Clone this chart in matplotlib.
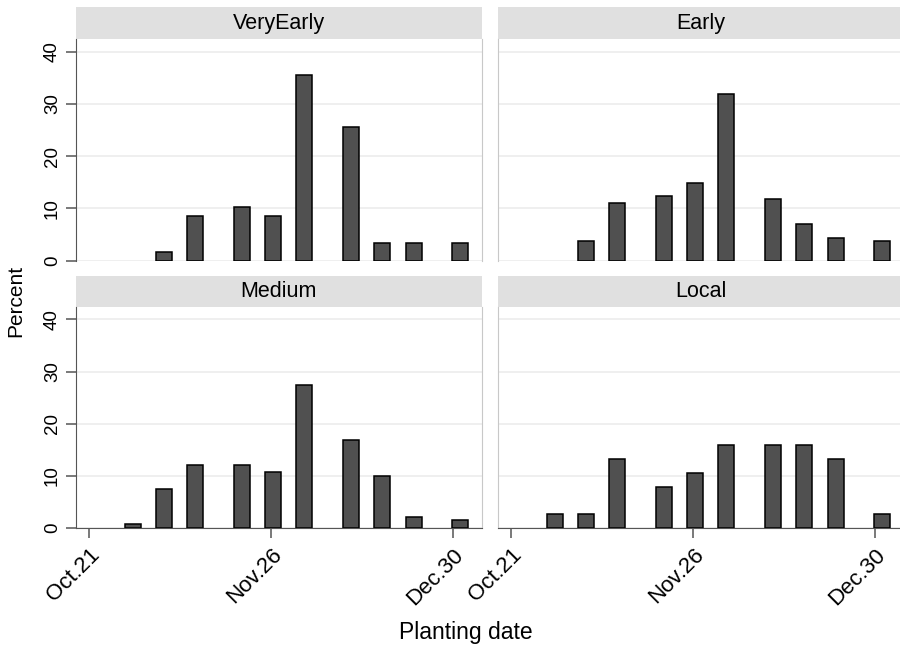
import numpy as np
import matplotlib
matplotlib.use("Agg")
import matplotlib.pyplot as plt

plt.rcParams['font.family'] = ['Liberation Sans', 'DejaVu Sans']

# bin centres on the date axis (Oct.21 = 0, Nov.26 = 36, Dec.30 = 72)
bin_pos = [8.7, 14.8, 21.0, 30.3, 36.4, 42.5, 51.8, 58.0, 64.3, 73.4]
tick_pos = [0, 36, 72]
tick_labels = ["Oct.21", "Nov.26", "Dec.30"]

very_early = [0, 1.7, 8.5, 10.2, 8.5, 35.6, 25.5, 3.4, 3.4, 3.4]
early = [0, 3.8, 11.1, 12.4, 14.8, 31.9, 11.7, 6.9, 4.4, 3.8]
medium = [0.7, 7.4, 12.1, 12.1, 10.7, 27.4, 16.8, 10.0, 2.0, 1.4]
local = [2.6, 2.6, 13.2, 7.9, 10.6, 15.9, 15.9, 15.9, 13.2, 2.6]

groups = ["VeryEarly", "Early", "Medium", "Local"]
series = [very_early, early, medium, local]

W, H = 900, 646
fig = plt.figure(figsize=(9, 6.46), dpi=100)

def px_axes(x0, y0, x1, y1):
    return fig.add_axes([x0 / W, 1 - y1 / H, (x1 - x0) / W, (y1 - y0) / H])

panel_w = 406
cols = [75.7, 497.7]
rows = [(7.3, 39.0, 260.5), (276.0, 307.0, 527.7)]

for i, (name, vals) in enumerate(zip(groups, series)):
    r, c = divmod(i, 2)
    x0 = cols[c]
    s0, p0, p1 = rows[r]
    # strip
    sax = px_axes(x0, s0, x0 + panel_w, p0)
    sax.set_facecolor("#e0e0e0")
    sax.set_xticks([])
    sax.set_yticks([])
    for sp in sax.spines.values():
        sp.set_visible(False)
    sax.text(0.5, 0.5, name, ha="center", va="center", fontsize=15.5,
             transform=sax.transAxes)

    ax = px_axes(x0, p0, x0 + panel_w, p1)
    xs = [p for p, v in zip(bin_pos, vals) if v > 0]
    hs = [v for v in vals if v > 0]
    ax.bar(xs, hs, width=3.16, color="#505050", edgecolor="black",
           linewidth=1.1, zorder=3)
    ax.set_xlim(-2.63, 77.66)
    ax.set_ylim(0, 42.4)
    ax.set_yticks([0, 10, 20, 30, 40])
    ax.yaxis.grid(True, color="#ececec", linewidth=1.2, zorder=0)
    ax.set_axisbelow(True)
    ax.spines["top"].set_visible(False)
    ax.spines["right"].set_color("#c8c8c8")
    ax.spines["left"].set_color("#c8c8c8")
    ax.spines["bottom"].set_color("#555555")
    ax.tick_params(axis="both", length=7, width=1.1, color="#555555",
                   labelsize=13.5)
    ax.tick_params(axis="x", labelsize=16, pad=5)

    if c == 0:
        ax.spines["left"].set_color("#555555")
        ax.set_yticklabels([str(v) for v in [0, 10, 20, 30, 40]],
                           rotation=90, va="center")
    else:
        ax.tick_params(axis="y", length=0, labelleft=False)

    if r == 1:
        ax.set_xticks(tick_pos)
        ax.set_xticklabels(tick_labels, rotation=45, ha="right",
                           rotation_mode="anchor")
    else:
        ax.spines["bottom"].set_visible(False)
        ax.set_xticks([])

fig.text(16 / W, 1 - 301 / H, "Percent", rotation=90, ha="center",
         va="center", fontsize=15)
fig.text(466 / W, 1 - 632 / H, "Planting date", ha="center", va="center",
         fontsize=16.5)

fig.savefig("out.png", dpi=100)
